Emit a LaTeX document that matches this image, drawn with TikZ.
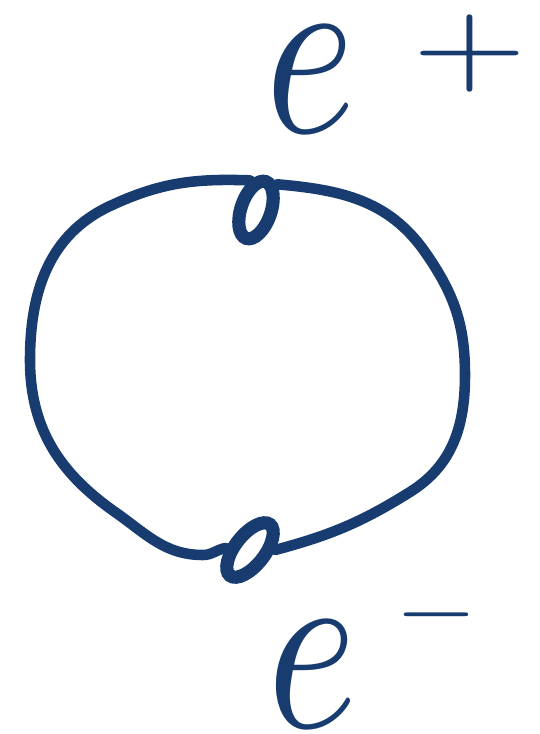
\documentclass[tikz,border=0pt]{standalone}
\usepackage{amsmath,amssymb,graphicx}
\usepackage{tikz}
\usetikzlibrary{shapes.geometric}
\definecolor{inkblue}{RGB}{24,60,112}

\begin{document}
\begin{tikzpicture}[x=.02cm,y=-.02cm,
    stroke/.style={draw=inkblue,line width=6pt,line cap=round},
    blob/.style={stroke,line width=7.5pt,ellipse,inner sep=0pt,minimum width=1.2cm,minimum height=.6cm},
    lbl/.style={text=inkblue,inner sep=0pt}]
    \useasboundingbox[fill=white] (0,0) rectangle (539,734);
    % the two vertices
    \node[blob,rotate=71] (vtop) at (256,210) {};
    \node[blob,rotate=52,minimum width=1.3cm] (vbot) at (250,550) {};
    \coordinate (ltop) at (110,206);
    \coordinate (lside) at (30,360);
    \coordinate (lbot) at (115,512);
    \coordinate (dip) at (203,555);
    \coordinate (rbot) at (410,492);
    \coordinate (rside) at (465,375);
    \coordinate (rtop) at (425,252);
    % loop
    \draw[stroke] (vtop.30) to[out=178,in=25] (ltop) to[out=205,in=90] (lside)
      to[out=-90,in=145] (lbot) to[out=-35,in=180] (dip) to[out=0,in=190] (vbot.123);
    \draw[stroke] (vbot.-52) to[out=15,in=212] (rbot) to[out=32,in=-90] (rside)
      to[out=90,in=-55] (rtop) to[out=125,in=-5] (vtop.-20);
    % labels
    \node[lbl] (etop) at (310,80) {\scalebox{11}[14]{$e$}};
    \node[lbl] (plus) at (470,54) {\scalebox{8.4}[6.6]{$+$}};
    \node[lbl] (ebot) at (312,675) {\scalebox{11}[14]{$e$}};
    \node[lbl] (minus) at (436,615) {\scalebox{6}[5.4]{$-$}};
  \end{tikzpicture}
\end{document}
